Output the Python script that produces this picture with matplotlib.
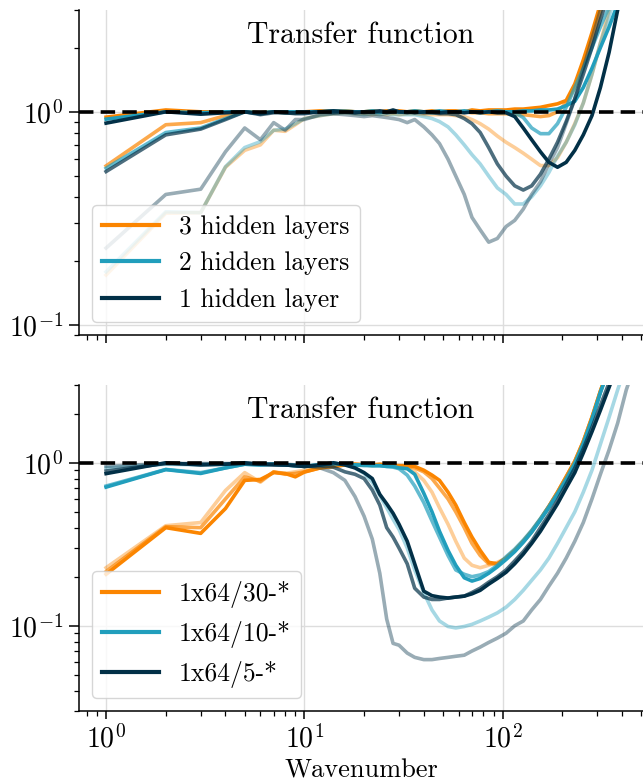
import matplotlib
matplotlib.use("Agg")
import matplotlib.pyplot as plt
import numpy as np

plt.rcParams.update({
    "font.family": "serif",
    "font.serif": ["cmr10"],
    "mathtext.fontset": "cm",
    "axes.unicode_minus": False,
    "axes.formatter.use_mathtext": True,
})

# ---------------- data ----------------
K = [1, 2, 3, 4, 5, 6, 7, 8, 9,
     10, 12, 14, 16, 18, 20, 22, 24, 26, 28, 30,
     33, 36, 40, 44, 48, 53, 58, 64, 70, 77, 85, 94,
     104, 115, 127, 140, 155, 171, 189, 209, 231, 255, 282, 311, 344, 380, 420, 464, 512]

colors = ["#fb8500", "#219ebc", "#023047"]
alphas = [0.4, 0.7, 1.0]

top_labels = ["3 hidden layers", "2 hidden layers", "1 hidden layer"]
bot_labels = ["1x64/30-*", "1x64/10-*", "1x64/5-*"]

# top panel (hidden layers) -- alpha 1.0 / 0.7 / 0.4 variants
top_o1 = [0.944, 1.02, 1.0, 1.0, 1.0, 0.99, 1.0, 1.0, 1.0,
          1.0, 1.01, 1.0, 1.01, 1.0, 1.0, 1.01, 1.0, 1.01, 1.0, 1.01,
          1.0, 1.01, 1.0, 1.01, 1.0, 1.01, 1.01, 1.0, 1.02, 1.01, 1.02, 1.02,
          1.02, 1.03, 1.03, 1.04, 1.05, 1.07, 1.09, 1.13, 1.35, 1.75, 2.35, 3.2, 4.4, 6, 8, 11, 15]
top_o7 = [0.558, 0.87, 0.89, 0.96, 1.0, 0.99, 1.0, 0.99, 0.99,
          1.0, 1.0, 1.01, 1.0, 1.0, 0.99, 1.0, 1.0, 1.0, 0.99, 1.0,
          1.0, 1.0, 0.99, 1.0, 1.0, 0.99, 1.0, 1.0, 0.99, 0.99, 0.98, 0.98,
          0.98, 0.97, 0.97, 0.96, 0.95, 0.96, 1.0, 1.1, 1.3, 1.65, 2.15, 2.9, 4.0, 5.5, 7.5, 10, 13]
top_o4 = [0.172, 0.335, 0.337, 0.55, 0.66, 0.70, 0.82, 0.81, 0.87,
          0.93, 0.96, 0.98, 0.99, 0.98, 0.98, 0.97, 0.98, 0.97, 0.98, 0.97,
          0.98, 0.98, 0.97, 0.97, 0.97, 0.97, 0.96, 0.95, 0.92, 0.88, 0.83, 0.77,
          0.72, 0.68, 0.64, 0.6, 0.56, 0.56, 0.61, 0.72, 0.88, 1.1, 1.5, 2.1, 3.0, 4.1, 5.6, 7.5, 10]
top_t1 = [0.924, 1.0, 0.99, 1.0, 1.0, 0.99, 1.0, 1.0, 1.0,
          1.0, 1.0, 1.01, 1.0, 1.0, 1.0, 1.01, 1.0, 1.0, 1.01, 1.0,
          1.0, 1.01, 1.0, 1.0, 1.01, 1.0, 1.0, 1.01, 1.0, 1.0, 1.0, 1.01,
          1.0, 1.0, 1.01, 1.01, 1.02, 1.02, 1.03, 1.07, 1.12, 1.3, 1.6, 2.0, 2.5, 3.2, 4.3, 5.8, 7.8]
top_t7 = [0.544, 0.80, 0.84, 0.93, 1.0, 0.98, 1.0, 0.99, 0.99,
          1.0, 1.0, 1.0, 1.01, 1.0, 1.0, 1.0, 0.99, 1.0, 1.0, 1.0,
          1.0, 1.0, 1.0, 0.99, 1.0, 1.0, 1.0, 1.0, 1.0, 0.99, 1.0, 1.0,
          1.0, 0.99, 0.94, 0.84, 0.79, 0.79, 0.88, 1.05, 1.3, 1.6, 2.0, 2.5, 3.1, 4.0, 5.3, 7, 9.5]
top_t4 = [0.178, 0.34, 0.337, 0.553, 0.68, 0.725, 0.82, 0.83, 0.88,
          0.93, 0.96, 0.98, 0.99, 0.98, 0.97, 0.98, 0.97, 0.98, 0.97, 0.97,
          0.97, 0.97, 0.95, 0.93, 0.9, 0.85, 0.78, 0.7, 0.63, 0.57, 0.5, 0.44,
          0.41, 0.37, 0.37, 0.4, 0.45, 0.52, 0.62, 0.72, 0.87, 1.1, 1.5, 2.1, 2.8, 3.8, 5.2, 7, 9.5]
top_n1 = [0.885, 1.0, 0.975, 0.99, 1.0, 0.98, 1.0, 0.99, 0.99,
          0.99, 1.0, 1.01, 1.0, 0.99, 1.0, 1.0, 1.01, 1.0, 1.02, 1.0,
          1.0, 0.99, 1.0, 1.0, 0.99, 1.0, 1.0, 0.99, 1.0, 0.99, 1.0, 0.99,
          0.99, 0.95, 0.84, 0.74, 0.65, 0.58, 0.55, 0.58, 0.66, 0.78, 0.96, 1.3, 1.9, 3.0, 4.5, 7, 10]
top_n7 = [0.525, 0.78, 0.83, 0.92, 1.0, 0.97, 0.99, 0.99, 0.98,
          0.98, 1.0, 0.99, 1.0, 1.0, 0.99, 1.0, 1.0, 0.99, 1.0, 1.0,
          0.99, 1.0, 0.99, 0.99, 0.98, 0.98, 0.97, 0.93, 0.88, 0.8, 0.68, 0.57,
          0.5, 0.45, 0.43, 0.45, 0.51, 0.6, 0.72, 0.9, 1.15, 1.5, 2.0, 2.7, 3.6, 5, 7, 9, 12]
top_n4 = [0.23, 0.41, 0.434, 0.65, 0.84, 0.74, 0.89, 0.82, 0.92,
          0.92, 0.97, 0.98, 0.97, 0.96, 0.95, 0.96, 0.95, 0.94, 0.93, 0.92,
          0.89, 0.92, 0.85, 0.78, 0.71, 0.6, 0.5, 0.41, 0.32, 0.28, 0.245, 0.255,
          0.29, 0.31, 0.35, 0.41, 0.47, 0.57, 0.68, 0.88, 1.15, 1.6, 2.2, 3.0, 4.2, 6, 8, 11, 15]

# bottom panel (1x64/N-*)
bot_o1 = [0.207, 0.40, 0.369, 0.524, 0.78, 0.79, 0.87, 0.86, 0.82,
          0.877, 0.93, 0.95, 0.97, 0.98, 0.97, 0.97, 0.98, 0.97, 0.96, 0.96,
          0.96, 0.95, 0.9, 0.84, 0.78, 0.66, 0.55, 0.43, 0.35, 0.29, 0.245, 0.24,
          0.26, 0.29, 0.33, 0.38, 0.45, 0.54, 0.66, 0.82, 1.02, 1.35, 1.9, 2.75, 3.9, 5.4, 7.5, 10, 14]
bot_o7 = [0.215, 0.405, 0.40, 0.6, 0.82, 0.77, 0.88, 0.85, 0.86,
          0.88, 0.93, 0.95, 0.97, 0.98, 0.97, 0.97, 0.97, 0.97, 0.96, 0.96,
          0.95, 0.93, 0.88, 0.8, 0.7, 0.6, 0.5, 0.4, 0.32, 0.27, 0.24, 0.24,
          0.26, 0.29, 0.33, 0.38, 0.45, 0.54, 0.66, 0.82, 1.02, 1.35, 1.9, 2.75, 3.9, 5.4, 7.5, 10, 14]
bot_o4 = [0.227, 0.411, 0.43, 0.676, 0.87, 0.76, 0.88, 0.86, 0.88,
          0.9, 0.94, 0.96, 0.97, 0.97, 0.97, 0.96, 0.97, 0.96, 0.95, 0.94,
          0.92, 0.88, 0.78, 0.66, 0.53, 0.42, 0.33, 0.26, 0.235, 0.227, 0.235, 0.245,
          0.26, 0.29, 0.33, 0.38, 0.45, 0.54, 0.66, 0.82, 1.02, 1.35, 1.9, 2.75, 3.9, 5.4, 7.5, 10, 14]
bot_t1 = [0.709, 0.908, 0.86, 0.93, 0.98, 0.97, 0.98, 0.97, 0.96,
          0.95, 0.97, 0.99, 0.98, 0.97, 0.97, 0.96, 0.96, 0.95, 0.95, 0.93,
          0.92, 0.85, 0.65, 0.5, 0.38, 0.29, 0.235, 0.197, 0.188, 0.195, 0.21, 0.23,
          0.255, 0.285, 0.325, 0.375, 0.445, 0.53, 0.64, 0.78, 0.98, 1.3, 1.85, 2.7, 3.8, 5.3, 7.3, 10, 13]
bot_t7 = [0.72, 0.91, 0.87, 0.93, 0.98, 0.97, 0.98, 0.97, 0.96,
          0.95, 0.97, 0.99, 0.98, 0.97, 0.96, 0.96, 0.96, 0.95, 0.94, 0.92,
          0.84, 0.72, 0.57, 0.44, 0.35, 0.27, 0.22, 0.207, 0.2, 0.205, 0.215, 0.235,
          0.265, 0.295, 0.335, 0.385, 0.455, 0.54, 0.65, 0.8, 1.0, 1.32, 1.85, 2.7, 3.8, 5.2, 7, 9, 12]
bot_t4 = [0.93, 0.98, 0.97, 0.98, 0.99, 0.98, 0.98, 0.97, 0.97,
          0.96, 0.97, 0.99, 0.98, 0.93, 0.86, 0.76, 0.63, 0.53, 0.45, 0.39,
          0.3, 0.22, 0.16, 0.125, 0.107, 0.099, 0.097, 0.099, 0.102, 0.107, 0.113, 0.12,
          0.13, 0.145, 0.165, 0.19, 0.22, 0.26, 0.32, 0.4, 0.5, 0.66, 0.9, 1.3, 1.9, 2.8, 4.0, 5.5, 7.5]
bot_n1 = [0.858, 1.0, 0.97, 0.98, 1.0, 0.98, 0.97, 0.97, 0.96,
          0.95, 0.97, 1.0, 0.97, 0.93, 0.87, 0.8, 0.64, 0.56, 0.49, 0.42,
          0.33, 0.24, 0.163, 0.153, 0.15, 0.148, 0.15, 0.152, 0.157, 0.165, 0.18, 0.195,
          0.213, 0.24, 0.275, 0.32, 0.38, 0.46, 0.56, 0.7, 0.87, 1.15, 1.55, 2.1, 2.9, 4.0, 5.5, 7.5, 10]
bot_n7 = [0.89, 0.99, 0.98, 0.98, 0.99, 0.98, 0.98, 0.97, 0.96,
          0.95, 0.96, 0.94, 0.88, 0.85, 0.8, 0.68, 0.55, 0.4, 0.35, 0.3,
          0.24, 0.17, 0.15, 0.145, 0.145, 0.148, 0.15, 0.152, 0.16, 0.17, 0.185, 0.2,
          0.22, 0.25, 0.285, 0.33, 0.4, 0.48, 0.59, 0.74, 0.93, 1.22, 1.65, 2.25, 3.1, 4.3, 6, 8, 11]
bot_n4 = [0.95, 0.99, 0.99, 0.99, 0.99, 0.98, 0.98, 0.98, 0.97,
          0.96, 0.93, 0.87, 0.78, 0.62, 0.47, 0.34, 0.21, 0.11, 0.078, 0.076,
          0.068, 0.064, 0.062, 0.062, 0.063, 0.064, 0.065, 0.066, 0.07, 0.074, 0.079, 0.084,
          0.09, 0.1, 0.107, 0.125, 0.145, 0.175, 0.21, 0.26, 0.33, 0.43, 0.6, 0.85, 1.2, 1.75, 2.8, 4.0, 6.0]

top_series = [[top_o4, top_o7, top_o1], [top_t4, top_t7, top_t1], [top_n4, top_n7, top_n1]]
bot_series = [[bot_o4, bot_o7, bot_o1], [bot_t4, bot_t7, bot_t1], [bot_n4, bot_n7, bot_n1]]

# ---------------- figure ----------------
W, H = 643, 783
fig = plt.figure(figsize=(W / 100, H / 100), dpi=100)
ax1 = fig.add_axes([79 / W, 1 - 335 / H, 564 / W, 325 / H])
ax2 = fig.add_axes([79 / W, 1 - 711 / H, 564 / W, 326 / H])

panels = [(ax1, top_series, top_labels, (0.09, 3.0)),
          (ax2, bot_series, bot_labels, (0.03, 3.0))]

for ax, series, labels, ylim in panels:
    handles = []
    for color, group, label in zip(colors, series, labels):
        for a, vals in zip(alphas, group):
            ln, = ax.plot(K, vals, color=color, alpha=a, lw=2.6,
                          solid_joinstyle="round", zorder=2)
        handles.append(ln)
        ln.set_label(label)
    ax.axhline(1.0, color="black", lw=2.6, dashes=(4, 2), zorder=5)
    ax.set_xscale("log")
    ax.set_yscale("log")
    ax.set_xlim(0.73, 510)
    ax.set_ylim(*ylim)
    ax.grid(True, which="major", color="#dddddd", lw=1.0)
    ax.set_axisbelow(True)
    for s in ["top", "right"]:
        ax.spines[s].set_visible(False)
    for s in ["left", "bottom"]:
        ax.spines[s].set_linewidth(1.1)
    ax.tick_params(which="major", length=6, width=1.1, labelsize=20, direction="out")
    ax.tick_params(axis="y", which="major", length=7, pad=4.5)
    ax.tick_params(which="minor", length=3.5, width=0.9, direction="out")
    ax.tick_params(axis="x", which="minor", labelbottom=False)
    ax.tick_params(axis="y", which="minor", labelleft=False)
    ax.text(0.5, 0.899, "Transfer function", transform=ax.transAxes,
            ha="center", va="baseline", fontsize=21.5)
    leg = ax.legend(handles=handles, loc="lower left", fontsize=18.5,
                    framealpha=0.8, edgecolor="#cccccc", handlelength=2.2)
    for lh in leg.get_lines():
        lh.set_alpha(1.0)
        lh.set_linewidth(3)

ax1.tick_params(axis="x", which="both", labelbottom=False)
ax2.set_xlabel("Wavenumber", fontsize=19, labelpad=4)

fig.savefig("out.png", dpi=100)
